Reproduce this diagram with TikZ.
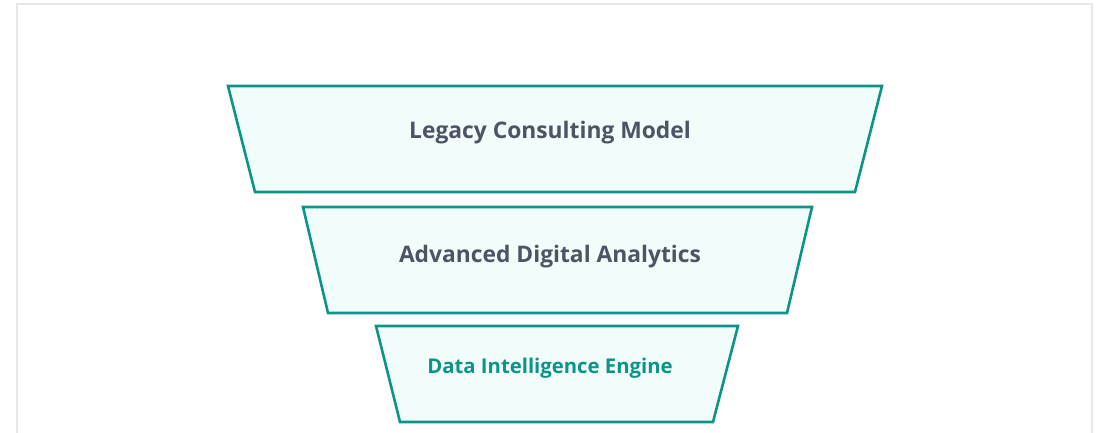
\documentclass[tikz,border=0pt]{standalone}
\usepackage{fontspec}
\setmainfont{Open Sans}
\definecolor{tealline}{HTML}{0D9488}
\definecolor{tealfill}{HTML}{F0FDFA}
\definecolor{slate}{HTML}{4B5563}
\definecolor{frame}{HTML}{E5E7EB}
\begin{document}
\begin{tikzpicture}[x=1pt,y=-1pt,
  stage/.style={draw=tealline,fill=tealfill,line width=2.6pt,line join=miter},
  stagelabel/.style={font=\bfseries\fontsize{22.8}{26}\selectfont,text=slate,inner sep=0pt,anchor=base},
  corelabel/.style={font=\bfseries\fontsize{20.3}{24}\selectfont,text=tealline,inner sep=0pt,anchor=base}]
  \useasboundingbox (0,0) rectangle (1098,433);
  \clip (0,0) rectangle (1098,433);
  % outer panel
  \draw[frame,line width=1.6pt,fill=white] (17,4) rectangle (1092,460);
  % funnel stages
  \draw[stage] (228,86) -- (882,86) -- (855,192) -- (255,192) -- cycle;
  \draw[stage] (303,207) -- (812,207) -- (787,313) -- (328,313) -- cycle;
  \draw[stage] (376,326) -- (738,326) -- (713,422) -- (400,422) -- cycle;
  % labels
  \node[stagelabel] (legacy) at (550,139) {Legacy Consulting Model};
  \node[stagelabel] (analytics) at (550,262) {Advanced Digital Analytics};
  \node[corelabel] (engine) at (550,373) {Data Intelligence Engine};
\end{tikzpicture}
\end{document}
